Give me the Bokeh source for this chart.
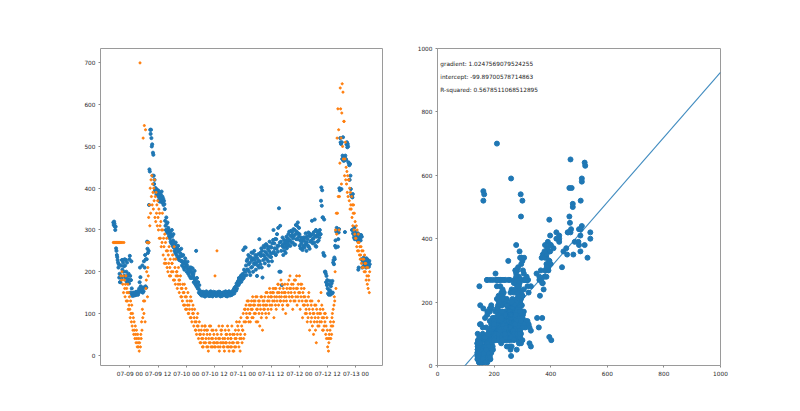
import pandas as pd
from bokeh.plotting import figure
from bokeh.layouts import row
from bokeh.models import Range1d, FixedTicker, DatetimeTickFormatter
from bokeh.core.properties import value
from bokeh.embed import file_html
from bokeh.resources import INLINE

# Sampling: one reading every 10 minutes, starting 07-08 17:00 (one row = 1 hour)
start_time = "2021-07-08 17:00"
sample_step = "10min"

# Predictor series (blue)
series_x = [
    318, 312, 320, 315, 308, 300,
    308, 256, 250, 240, 235, 228,
    222, 210, 218, 186, 195, 175,
    175, 190, 215, 185, 228, 205,
    228, 222, 200, 213, 190, 230,
    215, 185, 228, 200, 176, 222,
    190, 176, 182, 195, 172, 230,
    238, 190, 150, 180, 225, 160,
    145, 142, 148, 150, 146, 143,
    146, 150, 144, 148, 152, 145,
    148, 152, 147, 145, 150, 155,
    160, 175, 210, 187, 165, 152,
    158, 155, 215, 150, 162, 153,
    225, 162, 210, 240, 165, 230,
    162, 230, 272, 255, 245, 270,
    250, 360, 445, 440, 540, 530,
    540, 520, 500, 505, 430, 485,
    480, 430, 410, 420, 395, 400,
    400, 390, 385, 395, 392, 388,
    395, 380, 372, 385, 368, 390,
    378, 385, 372, 392, 366, 380,
    365, 375, 360, 370, 362, 350,
    322, 310, 300, 330, 315, 295,
    318, 292, 305, 300, 285, 298,
    280, 295, 272, 288, 268, 300,
    285, 262, 275, 290, 258, 270,
    250, 265, 245, 270, 255, 240,
    258, 232, 248, 262, 236, 252,
    228, 252, 236, 244, 226, 255,
    226, 215, 238, 222, 240, 210,
    220, 205, 225, 232, 212, 218,
    212, 200, 215, 224, 206, 195,
    198, 205, 190, 210, 202, 185,
    210, 200, 185, 196, 208, 190,
    195, 175, 185, 202, 180, 170,
    170, 250, 165, 185, 175, 160,
    175, 160, 150, 168, 155, 147,
    148, 145, 150, 143, 152, 146,
    143, 147, 152, 145, 149, 141,
    141, 146, 149, 153, 144, 148,
    144, 150, 147, 142, 146, 151,
    142, 148, 153, 145, 150, 143,
    145, 141, 149, 152, 146, 147,
    146, 151, 144, 148, 142, 150,
    148, 150, 143, 146, 152, 145,
    147, 152, 145, 141, 149, 146,
    149, 142, 146, 150, 144, 148,
    151, 148, 144, 147, 153, 142,
    150, 146, 141, 148, 145, 152,
    149, 153, 147, 143, 150, 145,
    144, 150, 145, 152, 147, 155,
    150, 158, 148, 162, 154, 160,
    165, 155, 172, 160, 168, 175,
    178, 168, 185, 172, 182, 176,
    180, 190, 176, 192, 185, 182,
    195, 252, 185, 205, 190, 258,
    200, 258, 215, 192, 226, 205,
    230, 205, 240, 218, 200, 236,
    222, 192, 235, 210, 246, 228,
    212, 245, 200, 232, 220, 250,
    228, 218, 240, 205, 236, 222,
    190, 232, 215, 242, 226, 210,
    278, 225, 245, 218, 238, 256,
    210, 250, 186, 240, 228, 262,
    238, 258, 220, 248, 232, 266,
    245, 230, 262, 240, 255, 225,
    215, 250, 272, 236, 260, 244,
    235, 258, 225, 268, 245, 276,
    300, 248, 268, 256, 278, 242,
    240, 278, 255, 290, 262, 248,
    305, 262, 352, 200, 270, 310,
    200, 272, 250, 168, 262, 282,
    265, 240, 258, 276, 250, 268,
    270, 245, 262, 284, 256, 274,
    280, 268, 290, 262, 296, 275,
    275, 262, 285, 298, 270, 288,
    295, 270, 280, 302, 286, 265,
    300, 265, 290, 312, 278, 296,
    310, 278, 318, 292, 284, 305,
    290, 262, 275, 256, 282, 268,
    255, 280, 252, 274, 262, 282,
    275, 258, 282, 265, 292, 270,
    250, 270, 285, 278, 262, 294,
    260, 292, 255, 285, 272, 288,
    288, 275, 322, 290, 268, 280,
    280, 295, 270, 325, 286, 262,
    300, 260, 284, 296, 272, 288,
    292, 275, 295, 282, 300, 290,
    290, 370, 402, 358, 395, 330,
    330, 245, 240, 325, 238, 200,
    200, 196, 175, 190, 168, 180,
    160, 148, 170, 145, 155, 178,
    155, 145, 165, 150, 172, 148,
    178, 150, 222, 228, 218, 234,
    230, 262, 275, 258, 296, 305,
    300, 296, 260, 278, 294, 302,
    400, 395, 520, 510, 506, 398,
    510, 470, 478, 522, 466, 474,
    466, 472, 295, 478, 470, 468,
    505, 510, 498, 506, 500, 462,
    460, 455, 420, 458, 430, 398,
    385, 380, 300, 378, 386, 292,
    290, 282, 306, 278, 296, 288,
    278, 285, 290, 276, 282, 292,
    205, 210, 280, 288, 276, 282,
    275, 288, 230, 284, 210, 226,
    222, 212, 234, 220, 230, 216,
    218, 225, 210, 232, 214, 228,
    228, 215, 222, 212, 226, 218,
]

# Response series (orange), same timestamps
series_y = [
    270, 270, 270, 270, 270, 270,
    270, 270, 270, 270, 270, 270,
    270, 270, 270, 270, 270, 270,
    270, 190, 270, 180, 200, 270,
    170, 190, 150, 270, 180, 160,
    140, 170, 190, 130, 160, 150,
    130, 170, 110, 150, 120, 140,
    110, 90, 130, 100, 80, 120,
    70, 100, 60, 90, 50, 80,
    60, 40, 70, 50, 30, 60,
    40, 20, 50, 30, 20, 40,
    10, 30, 700, 20, 50, 40,
    80, 60, 110, 90, 520, 130,
    100, 550, 130, 80, 540, 160,
    180, 200, 270, 140, 210, 190,
    330, 270, 360, 310, 400, 340,
    420, 380, 430, 360, 410, 390,
    350, 400, 370, 420, 330, 380,
    320, 390, 340, 360, 310, 370,
    330, 300, 350, 280, 340, 310,
    280, 320, 260, 300, 270, 340,
    300, 240, 280, 260, 220, 290,
    230, 270, 220, 250, 280, 210,
    250, 200, 240, 220, 260, 190,
    210, 230, 190, 250, 200, 220,
    220, 240, 200, 180, 230, 260,
    180, 210, 170, 230, 190, 200,
    200, 160, 190, 170, 210, 180,
    150, 180, 170, 190, 140, 160,
    140, 160, 130, 170, 150, 120,
    150, 170, 120, 140, 110, 160,
    140, 110, 130, 120, 150, 100,
    100, 120, 110, 130, 90, 140,
    90, 130, 80, 110, 100, 120,
    100, 70, 90, 110, 80, 60,
    60, 80, 50, 90, 70, 100,
    70, 40, 60, 80, 50, 30,
    50, 30, 60, 40, 70, 20,
    40, 20, 50, 30, 60, 70,
    70, 30, 40, 60, 20, 50,
    60, 20, 10, 40, 30, 70,
    50, 30, 70, 20, 40, 60,
    20, 40, 60, 30, 50, 20,
    30, 190, 20, 40, 60, 30,
    250, 50, 30, 20, 40, 70,
    10, 40, 20, 30, 60, 50,
    60, 30, 70, 40, 20, 30,
    20, 10, 40, 60, 30, 50,
    30, 50, 20, 70, 40, 20,
    60, 10, 30, 50, 20, 40,
    40, 20, 70, 30, 50, 10,
    30, 10, 50, 20, 40, 60,
    20, 40, 80, 30, 50, 70,
    30, 60, 20, 80, 40, 10,
    50, 90, 40, 70, 30, 60,
    60, 100, 40, 80, 110, 50,
    110, 80, 120, 100, 90, 130,
    90, 110, 130, 80, 120, 100,
    100, 80, 120, 110, 130, 90,
    110, 140, 90, 120, 130, 100,
    120, 130, 100, 140, 80, 110,
    140, 110, 80, 120, 130, 100,
    130, 70, 120, 110, 140, 90,
    140, 100, 60, 130, 120, 110,
    130, 110, 140, 120, 100, 150,
    90, 120, 150, 130, 110, 140,
    100, 130, 160, 120, 150, 140,
    110, 140, 120, 150, 130, 160,
    150, 90, 130, 140, 160, 120,
    160, 110, 140, 130, 150, 170,
    170, 120, 150, 140, 160, 130,
    130, 180, 140, 150, 170, 120,
    110, 160, 130, 150, 140, 170,
    150, 100, 140, 130, 160, 120,
    170, 120, 150, 180, 140, 160,
    190, 130, 160, 150, 170, 140,
    140, 110, 170, 160, 130, 180,
    150, 130, 180, 140, 160, 190,
    120, 160, 140, 170, 150, 130,
    190, 150, 110, 170, 140, 160,
    170, 130, 90, 150, 120, 140,
    160, 120, 140, 100, 130, 110,
    100, 130, 80, 120, 90, 140,
    150, 110, 60, 100, 130, 80,
    120, 90, 130, 70, 110, 100,
    50, 100, 80, 120, 90, 60,
    120, 30, 110, 80, 100, 70,
    90, 130, 70, 100, 80, 110,
    100, 150, 80, 120, 90, 60,
    110, 60, 90, 70, 100, 80,
    100, 50, 70, 40, 90, 60,
    20, 40, 10, 30, 50, 40,
    60, 80, 40, 70, 50, 90,
    100, 70, 110, 80, 120, 140,
    130, 200, 300, 160, 340, 290,
    520, 340, 590, 380, 540, 300,
    380, 460, 640, 590, 520, 410,
    580, 650, 500, 630, 470, 560,
    560, 430, 470, 510, 420, 450,
    410, 440, 390, 430, 380, 420,
    420, 370, 400, 350, 390, 360,
    350, 380, 330, 360, 310, 340,
    360, 300, 340, 290, 320, 280,
    280, 310, 260, 300, 250, 270,
    290, 250, 270, 240, 260, 230,
    240, 260, 220, 250, 210, 230,
    250, 210, 230, 200, 240, 220,
    200, 220, 180, 210, 190, 170,
    210, 160, 190, 180, 150, 200,
]

assert len(series_x) == len(series_y)

# Fitted regression of series_y on series_x
gradient = 1.0247569079524255
intercept = -99.89700578714863
r_squared = 0.5678511068512895

time_ticks = ["2021-07-09 00:00", "2021-07-09 12:00", "2021-07-10 00:00",
              "2021-07-10 12:00", "2021-07-11 00:00", "2021-07-11 12:00",
              "2021-07-12 00:00", "2021-07-12 12:00", "2021-07-13 00:00"]
value_ticks = [0, 100, 200, 300, 400, 500, 600, 700]
scatter_ticks = [0, 200, 400, 600, 800, 1000]

BLUE = "#1f77b4"
ORANGE = "#ff7f0e"
FONT = "DejaVu Sans"
FONT_SIZE = "5.8px"

times = pd.date_range(start_time, periods=len(series_x), freq=sample_step)


def style_axes(p):
    p.grid.visible = False
    p.outline_line_color = "#9a9a9a"
    p.outline_line_width = 1
    p.background_fill_color = "white"
    p.border_fill_color = "white"
    for ax in p.axis:
        ax.axis_line_color = None
        ax.major_tick_line_color = "#8a8a8a"
        ax.major_tick_out = 2
        ax.major_tick_in = 0
        ax.minor_tick_line_color = None
        ax.major_label_text_font = FONT
        ax.major_label_text_font_size = FONT_SIZE
        ax.major_label_text_color = "#262626"
        ax.major_label_standoff = 3


# ---- left panel: both series over time ----
t0, t1 = times[0], times[-1]
t_pad = (t1 - t0) * 0.05
all_vals = series_x + series_y
v_lo, v_hi = min(all_vals), max(all_vals)
v_pad = (v_hi - v_lo) * 0.05

p1 = figure(width=400, height=411, x_axis_type="datetime",
            output_backend="svg", toolbar_location=None,
            x_range=Range1d(t0 - t_pad, t1 + t_pad),
            y_range=Range1d(v_lo - v_pad, v_hi + v_pad),
            min_border_left=100, min_border_right=18,
            min_border_top=48, min_border_bottom=46)

p1.scatter(times, series_x, size=3.1, color=BLUE, line_color=BLUE)
p1.scatter(times, series_y, size=2.1, color=ORANGE, line_color=ORANGE)

tick_ms = [pd.Timestamp(t).timestamp() * 1000 for t in time_ticks]
p1.xaxis.ticker = FixedTicker(ticks=tick_ms)
fmt = "%m-%d %H"
p1.xaxis.formatter = DatetimeTickFormatter(
    microseconds=fmt, milliseconds=fmt, seconds=fmt, minsec=fmt,
    minutes=fmt, hourmin=fmt, hours=fmt, days=fmt, months=fmt, years=fmt)
p1.yaxis.ticker = FixedTicker(ticks=value_ticks)
style_axes(p1)

# ---- right panel: series_y against series_x with fitted line ----
p2 = figure(width=400, height=411, output_backend="svg", toolbar_location=None,
            x_range=Range1d(0, 1000), y_range=Range1d(0, 1000),
            min_border_left=37, min_border_right=80,
            min_border_top=48, min_border_bottom=46)

p2.scatter(series_x, series_y, size=5, color=BLUE, line_color=BLUE)

line_x = [0, 1000]
line_y = [gradient * x + intercept for x in line_x]
p2.line(line_x, line_y, line_color=BLUE, line_width=1.1, line_alpha=0.85)

labels = [f"gradient: {gradient}", f"intercept: {intercept}", f"R-squared: {r_squared}"]
p2.text(x=[10, 10, 10], y=[950, 910, 870], text=labels,
        text_font=value(FONT), text_font_size=value(FONT_SIZE),
        text_color="#222222", text_baseline="alphabetic", text_align="left")

p2.xaxis.ticker = FixedTicker(ticks=scatter_ticks)
p2.yaxis.ticker = FixedTicker(ticks=scatter_ticks)
style_axes(p2)

layout = row(p1, p2)
open("out.html", "w").write(file_html(layout, INLINE))
